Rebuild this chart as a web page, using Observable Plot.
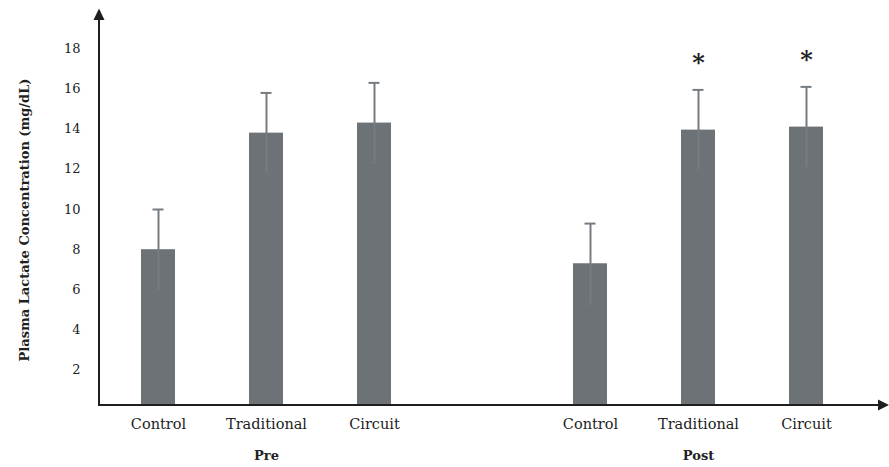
<!DOCTYPE html>
<html>
<head>
<meta charset="utf-8">
<script src="https://cdn.jsdelivr.net/npm/d3@7"></script>
<script src="https://cdn.jsdelivr.net/npm/@observablehq/plot@0.6"></script>
<style>
  html, body { margin: 0; padding: 0; background: #fff; }
  #chart svg { display: block; }
</style>
</head>
<body>
<div id="chart"></div>
<script>
// Plasma lactate (mg/dL), mean ± error, before and after training
const groups = ["Pre", "Post"];
const categories = ["Control", "Traditional", "Circuit"];
const preMeans = [8.0, 13.8, 14.3];
const postMeans = [7.3, 13.95, 14.1];
const preErrors = [2.0, 2.0, 2.0];
const postErrors = [2.0, 2.0, 2.0];
const postSignificance = ["", "*", "*"];
const yTicks = [2, 4, 6, 8, 10, 12, 14, 16, 18];
const yLabel = "Plasma Lactate Concentration (mg/dL)";

const meansByGroup = {Pre: preMeans, Post: postMeans};
const errorsByGroup = {Pre: preErrors, Post: postErrors};
const sigByGroup = {Pre: ["", "", ""], Post: postSignificance};

const rows = groups.flatMap(g => categories.map((c, i) => ({
  key: `${g} ${c}`,
  group: g,
  category: c,
  mean: meansByGroup[g][i],
  err: errorsByGroup[g][i],
  sig: sigByGroup[g][i]
})));

// an empty slot separates the Pre and Post groups
const gapKey = "gap";
const xDomain = [...rows.filter(d => d.group === "Pre").map(d => d.key), gapKey,
                 ...rows.filter(d => d.group === "Post").map(d => d.key)];
const groupCenters = groups.map(g => `${g} ${categories[1]}`);

const barColor = "#6d7276";
const errColor = "#777c80";
const ink = "#1f1f1f";

// axis lines with arrowheads along the left and bottom of the frame
function arrowAxes(index, scales, values, dims) {
  const {width, height, marginLeft, marginBottom} = dims;
  const x0 = marginLeft, y0 = height - marginBottom;
  const g = d3.create("svg:g");
  g.append("path")
    .attr("d", `M${x0},${y0 + 1}V19`)
    .attr("stroke", ink).attr("stroke-width", 2).attr("fill", "none");
  g.append("path")
    .attr("d", `M${x0 - 5.5},20L${x0},8.5L${x0 + 5.5},20Z`)
    .attr("fill", ink);
  g.append("path")
    .attr("d", `M${x0 - 1},${y0}H${width - 10}`)
    .attr("stroke", ink).attr("stroke-width", 2).attr("fill", "none");
  g.append("path")
    .attr("d", `M${width - 11},${y0 - 5.5}L${width},${y0}L${width - 11},${y0 + 5.5}Z`)
    .attr("fill", ink);
  return g.node();
}

const chart = Plot.plot({
  width: 889,
  height: 467,
  marginLeft: 99,
  marginRight: 0,
  marginTop: 10,
  marginBottom: 62,
  style: {fontFamily: "'DejaVu Serif', serif", background: "#fff", color: "#222"},
  x: {domain: xDomain, range: [140, 824], paddingInner: 0.686, paddingOuter: 0, align: 0.5},
  y: {domain: [0, 20], range: [410, 8]},
  marks: [
    Plot.barY(rows, {x: "key", y: "mean", fill: barColor, clip: true}),
    Plot.ruleX(rows, {x: "key", y1: d => d.mean - d.err, y2: d => d.mean + d.err,
                      stroke: errColor, strokeWidth: 2}),
    Plot.tickY(rows, {x: "key", y: d => d.mean + d.err, stroke: errColor, strokeWidth: 2,
                      insetLeft: 11.5, insetRight: 11.5}),
    Plot.tickY(rows, {x: "key", y: d => d.mean - d.err, stroke: errColor, strokeWidth: 1.2,
                      strokeOpacity: 0.6, insetLeft: 11.5, insetRight: 11.5}),
    Plot.text(rows.filter(d => d.sig), {x: "key", y: d => d.mean + d.err, text: "sig",
                      dy: -27, fontSize: 24, fontWeight: "bold", fill: ink}),
    Plot.axisY({ticks: yTicks, tickSize: 0, tickPadding: 19, fontSize: 13, label: null}),
    Plot.axisX({ticks: rows.map(d => d.key), tickFormat: k => k.split(" ")[1],
                tickSize: 0, tickPadding: 13, fontSize: 14.5, label: null}),
    Plot.axisX({ticks: groupCenters, tickFormat: k => k.split(" ")[0],
                tickSize: 0, tickPadding: 45, fontSize: 13, fontWeight: "bold", label: null}),
    Plot.text([yLabel], {frameAnchor: "left", rotate: -90, dx: -75, dy: 12,
                         textAnchor: "middle", lineAnchor: "middle",
                         fontSize: 13, fontWeight: "bold", fill: ink}),
    arrowAxes
  ]
});

document.getElementById("chart").append(chart);
</script>
</body>
</html>
